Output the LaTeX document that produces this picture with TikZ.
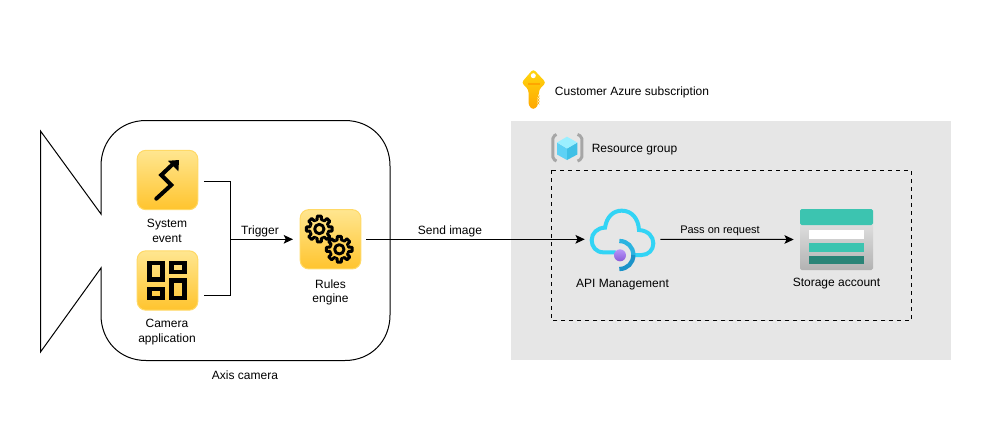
\documentclass[tikz,border=0pt]{standalone}
\usepackage{fontspec}
\setmainfont{Liberation Sans}
\usetikzlibrary{arrows.meta}
\definecolor{panel}{HTML}{E6E6E6}
\definecolor{ytop}{HTML}{FFE690}
\definecolor{ybot}{HTML}{FFC42E}
\definecolor{yedge}{HTML}{FFD966}
\definecolor{cloudc}{HTML}{32D4F5}
\definecolor{cloudmid}{HTML}{2BB4E0}
\definecolor{clouddk}{HTML}{1B93C9}
\definecolor{teal}{HTML}{3CC4B0}
\definecolor{tealdk}{HTML}{2A8477}
\definecolor{keytop}{HTML}{FFD70F}
\definecolor{keybot}{HTML}{FFA600}
\definecolor{cubel}{HTML}{5ED1F5}
\definecolor{cuber}{HTML}{3FC0E6}
\definecolor{cubet}{HTML}{9BEFFF}
\definecolor{balltop}{HTML}{B796F9}
\definecolor{ballbot}{HTML}{8A5AD8}
\tikzset{
  lbl/.style={font=\fontsize{9}{10.8}\selectfont,align=center,inner sep=0pt,text=black},
  smalllbl/.style={font=\fontsize{8.25}{10}\selectfont,align=center,inner sep=0pt,text=black},
  yicon/.style={draw=yedge,line width=0.75pt,rounded corners=6.5pt,top color=ytop,bottom color=ybot,minimum width=45.5pt,minimum height=44.5pt,inner sep=0pt},
  conn/.style={draw=black,line width=0.75pt},
  arr/.style={conn,-{Stealth[length=7pt,width=6.5pt,inset=1.6pt]}},
  glyph/.style={draw=black,line width=3pt},
  appbox/.style={draw=black,line width=3.3pt},
  gearline/.style={draw=black,line width=2.2pt,line join=round},
  bracket/.style={draw=black!35,line width=2.2pt,rounded corners=1.5pt}
}
\newcommand{\gearat}[3]{%
  \begin{scope}[shift={(#1,#2)}]
    \foreach \a in {0,45,...,315}{
      \draw[gearline] (\a-22.5:#3*0.74) -- (\a-13:#3*0.74) -- (\a-9:#3) -- (\a+9:#3) -- (\a+13:#3*0.74) -- (\a+22.5:#3*0.74);
    }
    \draw[gearline] (0,0) circle[radius=#3*0.36];
  \end{scope}}
\begin{document}
\begin{tikzpicture}[x=0.75pt,y=-0.75pt]
\useasboundingbox (0,0) rectangle (991,421);
% camera outline
\draw[line width=0.75pt,draw=black,line join=miter]
  (40.5,131) -- (101,214) -- (101,166)
  .. controls (101,140) and (120,120.5) .. (146,120.5)
  -- (345,120.5)
  .. controls (371,120.5) and (390,140) .. (390,166)
  -- (390,315)
  .. controls (390,341) and (371,360.5) .. (345,360.5)
  -- (146,360.5)
  .. controls (120,360.5) and (101,341) .. (101,315)
  -- (101,268) -- (40.5,352) -- cycle;
% azure panel
\fill[panel] (511,121) rectangle (951,360);
\draw[black,line width=0.75pt,dash pattern=on 3pt off 3pt] (551.5,170) rectangle (911,320.5);
% icons
\node[yicon] (sys) at (167.5,180) {};
\node[yicon] (cam) at (167.5,280.5) {};
\node[yicon] (rules) at (330.5,239.3) {};
% system glyph
\draw[glyph,line cap=round,line join=miter] (156.3,198.7) -- (171.3,185) -- (161.3,175) -- (173.5,163.5);
\fill[black] (179,160) -- (168,160.8) -- (178.4,171.4) -- cycle;
% camera app glyph
\draw[appbox] (149.5,262.9) rectangle (162.5,279.5);
\draw[appbox] (171.5,262.9) rectangle (184.5,271.8);
\draw[appbox] (149.5,288.9) rectangle (162.5,297.8);
\draw[appbox] (171.5,280.5) rectangle (184.5,297.8);
% gears
\gearat{319.3}{229}{13}
\gearat{339.3}{249.3}{13}
% key
\shade[top color=keytop,bottom color=keybot,rounded corners=2.2pt]
  (533.3,69) -- (546,82.7) -- (539,89.5) -- (539,96) -- (537.5,97) -- (539,98.5) -- (537.5,100) -- (539,101.5) -- (537.5,103) -- (539,104.5) -- (533.3,110) -- (528.5,105.5) -- (528.5,89.5) -- (521.5,82.7) -- cycle;
\fill[white] (533.3,75.7) circle[radius=2.5];
\fill[keybot] (527.7,82.7) rectangle (540,85);
% resource group glyph
\draw[bracket] (556.5,134.5) -- (552.8,136.5) -- (552.8,159) -- (556.5,161);
\draw[bracket] (577.5,134.5) -- (581.8,136.5) -- (581.8,159) -- (577.5,161);
\fill[cubel] (557,142.5) -- (567,148.5) -- (567,160) -- (557,154.5) -- cycle;
\fill[cuber] (577.3,142.5) -- (567,148.5) -- (567,160) -- (577.3,154.5) -- cycle;
\fill[cubet] (567,136.7) -- (577.3,142.5) -- (567,148.5) -- (557,142.5) -- cycle;
% api management
\node[inner sep=0pt,minimum width=56.25pt,minimum height=56.25pt] (apim) at (622.5,239.3) {};
\begin{scope}[shift={(570,195)},x=0.25pt,y=-0.25pt]
  \draw[cloudc,line width=3pt,line cap=round]
    (135,172) -- (100,172)
    .. controls (78,172) and (65,155) .. (65,135)
    .. controls (65,115) and (82,98) .. (105,98)
    .. controls (110,65) and (130,47) .. (155,47)
    .. controls (185,47) and (205,70) .. (207,105)
    .. controls (235,107) and (250,125) .. (250,145)
    .. controls (250,165) and (235,180) .. (215,180) -- (190,180);
  \draw[cloudmid,line width=3.2pt] (148,138) .. controls (172,138) and (190,156) .. (190,180);
  \draw[clouddk,line width=3.2pt] (190,180) .. controls (190,204) and (172,222) .. (148,222);
  \shade[top color=balltop,bottom color=ballbot] (150,181) circle[radius=18];
\end{scope}
% storage
\node[inner sep=0pt,minimum width=54.75pt,minimum height=45.75pt] (stor) at (836.5,239.5) {};
\shade[top color=black!10,bottom color=black!30,rounded corners=1.2pt] (800,215) rectangle (873,270);
\fill[teal,rounded corners=1.2pt] (800,209) rectangle (873,225);
\fill[white] (809,230) rectangle (864,239);
\fill[teal] (809,243) rectangle (864,251.7);
\fill[tealdk] (809,255.7) rectangle (864,264.3);
% connectors
\coordinate (j) at (230.5,239.3);
\draw[conn] ([shift={(5.5,1.3)}]sys.east) -| (j) |- ([shift={(5.5,14.8)}]cam.east);
\draw[arr,shorten >=5pt] (j) -- (rules.west);
\draw[arr,shorten <=3.75pt] (rules.east) -- (apim.west);
\draw[arr,shorten >=4.5pt] (apim.east) -- (stor.west);
% labels
\node[lbl] (tsys) at (167,231) {System\\event};
\node[lbl] (tcam) at (167,332) {Camera\\application};
\node[lbl] (trul) at (330.5,292.5) {Rules\\engine};
\node[lbl] (ttrig) at (260,231) {Trigger};
\node[lbl] (tsend) at (450,231) {Send image};
\node[smalllbl] (tpass) at (720,230.7) {Pass on request};
\node[lbl] (tapi) at (622.5,285) {API Management};
\node[lbl] (tsto) at (836.5,284) {Storage account};
\node[lbl] (taxis) at (245,375) {Axis camera};
\node[lbl] (tsub) at (632,92) {Customer Azure subscription};
\node[lbl] (trg) at (634.5,150) {Resource group};
\end{tikzpicture}
\end{document}
